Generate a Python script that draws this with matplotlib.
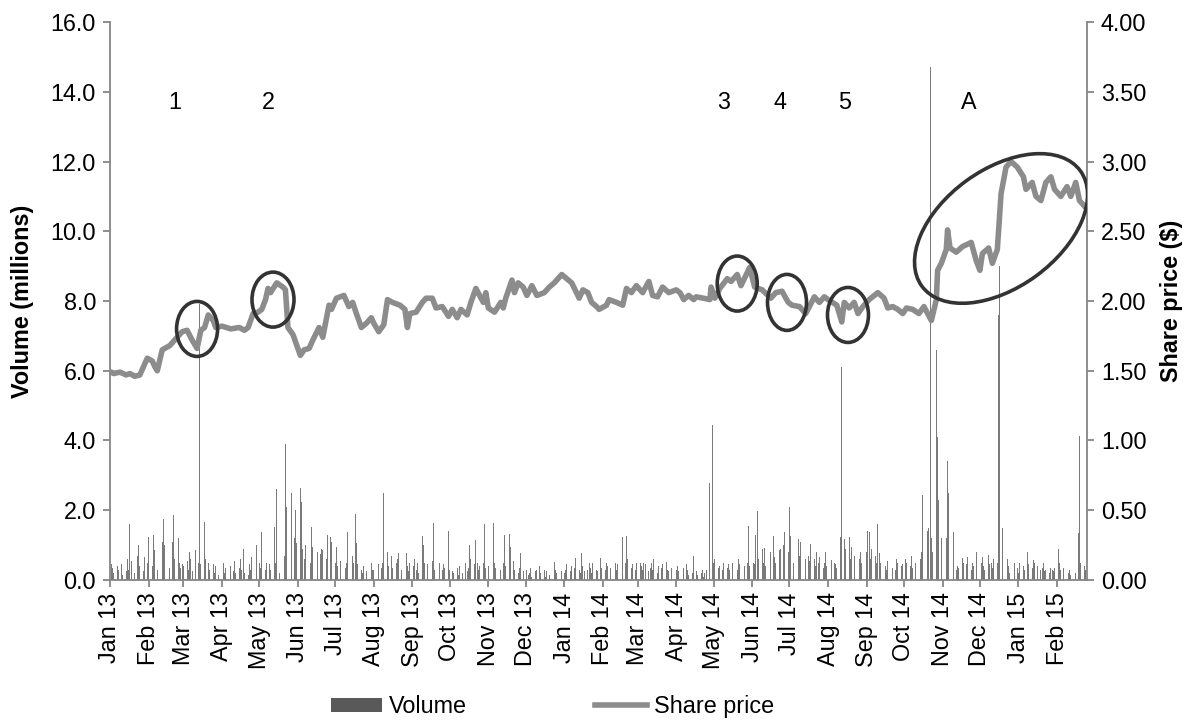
import pandas as pd
import matplotlib
matplotlib.use("Agg")
import matplotlib.pyplot as plt
import matplotlib.dates as mdates
import matplotlib.transforms as mtransforms
from matplotlib.patches import Ellipse, Patch
from matplotlib.lines import Line2D
from matplotlib.ticker import FormatStrFormatter, MultipleLocator

# ---------------------------------------------------------------- data
# Closing share price ($)
price_dates = [
    "2013-01-02", "2013-01-04", "2013-01-09", "2013-01-14", "2013-01-17", "2013-01-21",
    "2013-01-25", "2013-01-31", "2013-02-04", "2013-02-06", "2013-02-08", "2013-02-12",
    "2013-02-18", "2013-02-22", "2013-02-28", "2013-03-04", "2013-03-08", "2013-03-12",
    "2013-03-15", "2013-03-18", "2013-03-21", "2013-03-25", "2013-03-27", "2013-04-01",
    "2013-04-08", "2013-04-15", "2013-04-19", "2013-04-22", "2013-04-26", "2013-04-30",
    "2013-05-03", "2013-05-06", "2013-05-08", "2013-05-10", "2013-05-15", "2013-05-20",
    "2013-05-22", "2013-05-24", "2013-05-28", "2013-06-03", "2013-06-06", "2013-06-10",
    "2013-06-13", "2013-06-18", "2013-06-21", "2013-06-26", "2013-06-28", "2013-07-02",
    "2013-07-08", "2013-07-12", "2013-07-15", "2013-07-18", "2013-07-22", "2013-07-26",
    "2013-07-30", "2013-08-01", "2013-08-05", "2013-08-09", "2013-08-12", "2013-08-16",
    "2013-08-22", "2013-08-26", "2013-08-28", "2013-08-30", "2013-09-04", "2013-09-09",
    "2013-09-12", "2013-09-17", "2013-09-20", "2013-09-25", "2013-09-30", "2013-10-03",
    "2013-10-07", "2013-10-10", "2013-10-15", "2013-10-18", "2013-10-22", "2013-10-28",
    "2013-10-30", "2013-11-01", "2013-11-06", "2013-11-11", "2013-11-13", "2013-11-15",
    "2013-11-20", "2013-11-22", "2013-11-25", "2013-11-29", "2013-12-02", "2013-12-06",
    "2013-12-10", "2013-12-16", "2013-12-20", "2013-12-24", "2013-12-30", "2014-01-03",
    "2014-01-07", "2014-01-13", "2014-01-16", "2014-01-20", "2014-01-23", "2014-01-27",
    "2014-01-29", "2014-02-04", "2014-02-06", "2014-02-12", "2014-02-17", "2014-02-20",
    "2014-02-24", "2014-02-28", "2014-03-05", "2014-03-10", "2014-03-13", "2014-03-17",
    "2014-03-21", "2014-03-26", "2014-04-01", "2014-04-04", "2014-04-07", "2014-04-11",
    "2014-04-15", "2014-04-17", "2014-04-23", "2014-04-28", "2014-04-29", "2014-05-02",
    "2014-05-06", "2014-05-12", "2014-05-15", "2014-05-20", "2014-05-23", "2014-05-30",
    "2014-06-03", "2014-06-09", "2014-06-16", "2014-06-20", "2014-06-25", "2014-06-30",
    "2014-07-03", "2014-07-09", "2014-07-14", "2014-07-17", "2014-07-21", "2014-07-25",
    "2014-07-29", "2014-08-01", "2014-08-08", "2014-08-12", "2014-08-14", "2014-08-18",
    "2014-08-22", "2014-08-25", "2014-08-29", "2014-09-03", "2014-09-10", "2014-09-15",
    "2014-09-18", "2014-09-22", "2014-09-26", "2014-09-30", "2014-10-03", "2014-10-08",
    "2014-10-13", "2014-10-17", "2014-10-23", "2014-10-27", "2014-10-28", "2014-10-31",
    "2014-11-04", "2014-11-05", "2014-11-07", "2014-11-12", "2014-11-17", "2014-11-24",
    "2014-11-28", "2014-12-01", "2014-12-03", "2014-12-08", "2014-12-11", "2014-12-15",
    "2014-12-18", "2014-12-22", "2014-12-26", "2014-12-31", "2015-01-05", "2015-01-07",
    "2015-01-12", "2015-01-15", "2015-01-19", "2015-01-23", "2015-01-27", "2015-01-30",
    "2015-02-04", "2015-02-09", "2015-02-12", "2015-02-16", "2015-02-19", "2015-02-24",
]
price_values = [
    1.49, 1.48, 1.49, 1.47, 1.48, 1.46,
    1.47, 1.59, 1.57, 1.53, 1.50, 1.65,
    1.68, 1.72, 1.78, 1.79, 1.72, 1.66,
    1.79, 1.81, 1.90, 1.86, 1.81, 1.82,
    1.80, 1.81, 1.79, 1.81, 1.91, 1.92,
    1.94, 2.01, 2.09, 2.06, 2.13, 2.10,
    2.08, 1.81, 1.76, 1.61, 1.65, 1.66,
    1.72, 1.81, 1.74, 1.97, 1.94, 2.02,
    2.04, 1.96, 1.99, 1.91, 1.81, 1.84,
    1.88, 1.84, 1.78, 1.83, 2.01, 1.99,
    1.97, 1.94, 1.81, 1.91, 1.92, 1.99,
    2.02, 2.02, 1.95, 1.96, 1.89, 1.94,
    1.88, 1.94, 1.90, 1.99, 2.09, 1.99,
    2.06, 1.95, 1.92, 1.99, 1.95, 2.02,
    2.15, 2.06, 2.13, 2.10, 2.04, 2.11,
    2.04, 2.06, 2.10, 2.13, 2.19, 2.16,
    2.13, 2.02, 2.08, 2.06, 1.99, 1.96,
    1.94, 1.97, 2.01, 1.99, 1.97, 2.09,
    2.06, 2.11, 2.06, 2.14, 2.04, 2.03,
    2.10, 2.06, 2.08, 2.06, 2.01, 2.04,
    2.01, 2.03, 2.02, 2.01, 2.10, 2.02,
    2.09, 2.16, 2.14, 2.19, 2.11, 2.24,
    2.10, 2.08, 2.02, 2.06, 2.07, 1.99,
    1.97, 1.96, 1.91, 1.96, 2.03, 1.99,
    2.03, 2.01, 1.97, 1.85, 1.99, 1.95,
    1.99, 1.91, 1.96, 2.01, 2.06, 2.02,
    1.95, 1.96, 1.94, 1.91, 1.95, 1.94,
    1.91, 1.96, 1.86, 2.01, 2.22, 2.27,
    2.37, 2.51, 2.38, 2.35, 2.39, 2.42,
    2.29, 2.22, 2.34, 2.38, 2.27, 2.37,
    2.77, 2.96, 3.00, 2.96, 2.89, 2.80,
    2.85, 2.75, 2.72, 2.85, 2.89, 2.80,
    2.75, 2.82, 2.75, 2.85, 2.72, 2.67,
]

# Daily traded volume (millions of shares), one row per month of trading days
volume_millions = [
    # Jan 13
    0.45, 0.35, 0.20, 0.40, 0.30, 0.50, 0.45, 0.15, 0.25, 0.60, 0.30, 1.62, 0.55, 0.20, 0.35, 0.70, 1.00, 0.40, 0.25, 0.65, 1.05, 0.50,
    # Feb 13
    1.24, 0.40, 1.29, 0.85, 0.45, 0.30, 0.50, 1.10, 1.74, 1.00, 0.75, 0.35, 0.55, 1.10, 1.86, 0.60, 1.20, 0.50, 0.35, 0.45,
    # Mar 13
    0.40, 0.55, 0.30, 0.80, 0.60, 0.25, 0.86, 0.30, 0.50, 7.90, 0.45, 1.67, 0.60, 0.35, 0.50, 0.30, 0.45, 0.20, 0.40, 0.55, 0.15,
    # Apr 13
    0.30, 0.50, 0.20, 0.35, 0.15, 0.40, 0.30, 0.25, 0.55, 0.20, 0.35, 0.60, 0.30, 0.90, 0.20, 0.15, 0.45, 0.30, 0.65, 0.25, 1.00, 0.40,
    # May 13
    0.50, 0.35, 1.38, 0.30, 0.50, 0.40, 0.45, 0.30, 1.53, 0.50, 2.60, 1.00, 0.20, 7.30, 0.70, 3.90, 2.10, 0.80, 2.50, 0.90, 1.20, 2.00, 1.05,
    # Jun 13
    2.65, 2.25, 0.90, 0.60, 1.00, 0.70, 0.50, 1.53, 0.95, 0.60, 0.80, 0.55, 0.75, 0.90, 0.85, 0.60, 1.29, 0.70, 1.24, 1.10,
    # Jul 13
    0.50, 0.95, 0.40, 0.60, 0.55, 0.30, 0.35, 0.50, 1.38, 1.62, 0.70, 0.50, 1.89, 1.05, 0.45, 0.30, 0.20, 0.40, 0.55, 0.25, 0.35, 0.50, 0.30,
    # Aug 13
    0.30, 0.50, 0.45, 0.84, 0.35, 0.50, 2.50, 0.79, 0.40, 0.55, 0.70, 0.35, 0.50, 0.60, 0.76, 0.65, 0.30, 0.45, 0.76, 0.40, 0.25, 0.50,
    # Sep 13
    0.40, 0.60, 0.30, 0.50, 0.20, 1.26, 1.00, 0.50, 0.35, 0.45, 0.70, 0.55, 1.64, 0.30, 0.25, 0.50, 0.40, 0.30, 0.45, 0.35, 1.41,
    # Oct 13
    0.30, 0.50, 0.25, 0.20, 0.35, 0.15, 0.40, 0.30, 0.20, 0.50, 0.25, 0.35, 1.00, 0.60, 0.45, 1.15, 0.50, 0.30, 0.40, 0.50, 1.62, 0.35, 0.60,
    # Nov 13
    0.40, 0.30, 1.64, 0.50, 0.35, 0.45, 0.30, 0.60, 0.50, 1.29, 0.40, 1.31, 0.95, 0.50, 0.55, 0.30, 0.20, 0.35, 0.76, 0.40, 0.25,
    # Dec 13
    0.30, 0.15, 0.20, 0.35, 0.10, 0.25, 0.30, 0.15, 0.40, 0.20, 0.30, 0.10, 0.25, 0.20, 0.15, 0.35, 0.53, 0.30, 0.20, 0.10, 0.25, 0.40,
    # Jan 14
    0.20, 0.30, 0.45, 0.25, 0.40, 0.15, 0.35, 0.62, 0.30, 0.20, 0.76, 0.40, 0.25, 0.30, 0.50, 0.35, 0.20, 0.48, 0.30, 0.25, 0.40, 0.62, 0.35,
    # Feb 14
    0.30, 0.50, 0.40, 0.25, 0.35, 0.20, 0.50, 0.30, 0.45, 0.20, 1.22, 0.40, 0.50, 1.26, 0.60, 0.35, 0.45, 0.60, 0.30, 0.50,
    # Mar 14
    0.48, 0.40, 0.30, 0.50, 0.45, 0.25, 0.35, 0.50, 0.30, 0.60, 0.20, 0.40, 0.55, 0.35, 0.45, 0.53, 0.30, 0.25, 0.40, 0.35, 0.20,
    # Apr 14
    0.30, 0.40, 0.25, 0.53, 0.35, 0.20, 0.45, 0.30, 0.15, 0.20, 0.70, 0.30, 0.25, 0.15, 0.20, 0.30, 0.10, 0.20, 0.30, 2.77, 0.50, 4.44,
    # May 14
    0.50, 0.60, 0.35, 0.40, 0.55, 0.30, 0.50, 0.35, 0.45, 0.30, 0.40, 0.50, 0.86, 0.30, 0.60, 0.45, 0.35, 0.40, 0.30, 0.50, 1.55, 0.40,
    # Jun 14
    0.50, 0.45, 1.30, 1.98, 0.60, 0.90, 0.50, 0.93, 0.40, 0.60, 0.80, 5.53, 1.26, 0.67, 0.50, 0.85, 0.90, 0.60, 1.00, 1.38, 0.80,
    # Jul 14
    2.08, 1.26, 0.60, 0.50, 0.80, 1.17, 0.70, 1.10, 0.50, 0.60, 0.45, 0.70, 0.55, 1.03, 0.60, 0.40, 0.80, 0.50, 0.65, 0.35, 0.50, 0.80, 0.40,
    # Aug 14
    0.40, 0.57, 0.30, 0.50, 0.45, 0.35, 1.22, 6.10, 3.40, 1.17, 0.90, 1.24, 0.60, 0.94, 0.50, 0.70, 0.40, 0.60, 0.80, 0.50, 0.70,
    # Sep 14
    0.80, 1.41, 1.38, 0.60, 0.90, 0.70, 0.50, 1.60, 0.76, 0.50, 0.60, 0.40, 0.30, 0.55, 0.50, 0.35, 0.45, 0.30, 0.60, 0.50, 0.40, 0.45,
    # Oct 14
    1.10, 0.60, 0.50, 0.40, 0.70, 0.35, 1.07, 0.50, 0.95, 0.60, 0.80, 2.44, 0.70, 1.41, 1.50, 14.70, 1.20, 0.80, 6.60, 4.10, 2.30, 1.60, 1.20,
    # Nov 14
    2.30, 1.20, 3.40, 2.50, 1.55, 1.37, 0.50, 0.30, 0.40, 0.35, 0.62, 0.50, 1.00, 0.45, 0.67, 0.30, 0.50, 0.40, 0.60, 0.81,
    # Dec 14
    1.22, 0.50, 0.67, 0.40, 0.30, 0.72, 0.45, 0.50, 0.35, 0.60, 0.50, 7.60, 9.00, 2.90, 1.48, 1.03, 0.60, 0.40, 0.20, 0.30, 0.50, 0.40, 0.35,
    # Jan 15
    0.20, 0.50, 0.40, 0.30, 0.60, 0.80, 0.45, 0.35, 0.57, 0.50, 1.94, 0.40, 0.30, 0.35, 0.50, 0.25, 0.30, 0.20, 0.35, 0.30, 0.25, 0.33,
    # Feb 15
    0.90, 0.50, 0.30, 0.50, 0.35, 0.50, 0.20, 0.30, 0.15, 0.25, 0.20, 0.30, 1.34, 4.13, 0.50, 0.40, 0.30,
]

# Highlighted events: label, label date, circle centre (date, price)
event_labels = ["1", "2", "3", "4", "5", "A"]
event_label_dates = ["2013-02-22", "2013-05-08", "2014-05-09", "2014-06-23", "2014-08-14", "2014-11-22"]
event_centre_dates = ["2013-03-12", "2013-05-12", "2014-05-20", "2014-06-29", "2014-08-17", "2014-12-18"]
event_centre_prices = [1.80, 2.01, 2.125, 1.99, 1.90, 2.52]

# ---------------------------------------------------------------- style
plt.rcParams['font.family'] = ['Liberation Sans', 'DejaVu Sans']
AXIS_GREY = '#868686'
PRICE_GREY = '#8c8c8c'
VOL_GREY = '#7a7a7a'
FS = 16.8

fig = plt.figure(figsize=(11.9, 7.24), dpi=100)
ax = fig.add_axes([0.0924, 0.1989, 0.8210, 0.7707])

trading_days = pd.bdate_range("2013-01-02", "2015-02-24")
n = min(len(trading_days), len(volume_millions))
ax.bar(trading_days[:n], volume_millions[:n], width=0.65, color=VOL_GREY,
       linewidth=0, zorder=2)

ax2 = ax.twinx()
ax2.plot(pd.to_datetime(price_dates), price_values, color=PRICE_GREY, lw=4.0,
         solid_joinstyle='round', solid_capstyle='round', zorder=3)

# axes ranges and ticks
ax.set_xlim(pd.Timestamp("2013-01-01"), pd.Timestamp("2015-02-25"))
ax.set_ylim(0, 16)
ax2.set_ylim(0, 4)
ax.yaxis.set_major_locator(MultipleLocator(2))
ax2.yaxis.set_major_locator(MultipleLocator(0.5))
ax.yaxis.set_major_formatter(FormatStrFormatter('%.1f'))
ax2.yaxis.set_major_formatter(FormatStrFormatter('%.2f'))
ax.xaxis.set_major_locator(mdates.MonthLocator())
ax.xaxis.set_major_formatter(mdates.DateFormatter('%b %y'))

for a in (ax, ax2):
    a.spines['top'].set_visible(False)
    for s in ('left', 'right', 'bottom'):
        a.spines[s].set_color(AXIS_GREY)
        a.spines[s].set_linewidth(1.3)
    a.tick_params(axis='both', direction='out', length=5, width=1.3,
                  color=AXIS_GREY, labelsize=FS, labelcolor='black')
ax.spines['right'].set_visible(False)
ax2.spines['left'].set_visible(False)
ax2.spines['bottom'].set_visible(False)
ax.tick_params(axis='x', rotation=90, pad=4)
ax.tick_params(axis='y', pad=5)
ax2.tick_params(axis='y', pad=5)

ax.set_ylabel('Volume (millions)', fontsize=FS, fontweight='bold', labelpad=12)
ax2.set_ylabel('Share price ($)', fontsize=FS, fontweight='bold', labelpad=10)

# event markers
label_price = 3.42
for lab, d in zip(event_labels, event_label_dates):
    ax2.text(mdates.date2num(pd.Timestamp(d)), label_price, lab, fontsize=FS,
             ha='center', va='center', zorder=5)

circle_sizes = [(0.41, 0.55, 0), (0.42, 0.55, 0), (0.40, 0.55, 0),
                (0.39, 0.56, 0), (0.41, 0.55, 0), (1.96, 1.18, 36)]
for d, p, (w, h, ang) in zip(event_centre_dates, event_centre_prices, circle_sizes):
    tr = fig.dpi_scale_trans + mtransforms.ScaledTranslation(
        mdates.date2num(pd.Timestamp(d)), p, ax2.transData)
    ax2.add_patch(Ellipse((0, 0), w, h, angle=ang, transform=tr, fill=False,
                          edgecolor='#333333', lw=2.6, zorder=6))

# legend
handles = [Patch(facecolor='#595959', edgecolor='none'),
           Line2D([], [], color=PRICE_GREY, lw=4)]
fig.legend(handles, ['Volume', 'Share price'], loc='lower center',
           bbox_to_anchor=(0.464, -0.021), ncol=2, frameon=False, fontsize=FS,
           handlelength=2.2, handleheight=0.6, handletextpad=0.3,
           columnspacing=5.5)

fig.savefig('out.png', dpi=100)
